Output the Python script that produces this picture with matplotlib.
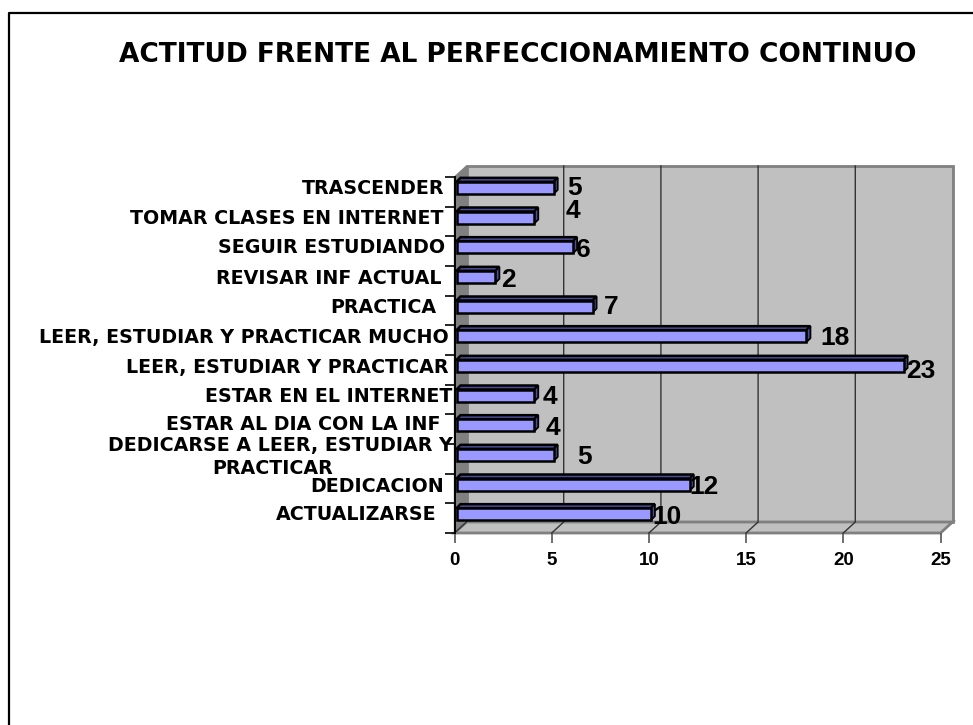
import matplotlib
matplotlib.use("Agg")
import matplotlib.pyplot as plt
from matplotlib.patches import Polygon

plt.rcParams['font.family'] = ['Liberation Sans', 'DejaVu Sans']

categorias = ["ACTUALIZARSE", "DEDICACION", "DEDICARSE A LEER, ESTUDIAR Y\nPRACTICAR",
              "ESTAR AL DIA CON LA INF", "ESTAR EN EL INTERNET", "LEER, ESTUDIAR Y PRACTICAR",
              "LEER, ESTUDIAR Y PRACTICAR MUCHO", "PRACTICA", "REVISAR INF ACTUAL",
              "SEGUIR ESTUDIANDO", "TOMAR CLASES EN INTERNET", "TRASCENDER"]
valores = [10, 12, 5, 4, 4, 23, 18, 7, 2, 6, 4, 5]
ticks_x = [0, 5, 10, 15, 20, 25]

# etiquetas movidas a mano en el original (px desde el final de la barra)
label_dx = [-3, -4, 20, 7, 4, -1, 10, 7, 2, -1, 27, 10]
label_dy = [3, 3, 2, 3, 2, 5, 2, 1, 3, 3, -7, 0]
# final derecho y altura de cada etiqueta de categoria, en pixeles
cat_right = [437, 444, 453, 441, 452, 449, 449, 436, 441, 445, 444, 444]
cat_y = [515, 486, 445, 424, 396, 367, 337, 307, 278, 248, 218, 189]
ancha = ['DejaVu Sans']

W, H = 973, 725
fig = plt.figure(figsize=(W / 100, H / 100), dpi=100)
# rectangulo frontal del grafico en pixeles
x0, x1, y_top, y_bot = 454.5, 940.5, 177, 533
dx, dy = 12, 11
ax = fig.add_axes([x0 / W, 1 - y_bot / H, (x1 - x0) / W, (y_bot - y_top) / H])
ax.set_xlim(0, 25)
ax.set_ylim(0, len(categorias))
ax.patch.set_visible(False)
for s in ax.spines.values():
    s.set_visible(False)

# marco exterior, sin lado derecho visible
fig.add_artist(plt.Line2D([8.5 / W, 8.5 / W, 1],
                          [0, 1 - 12.5 / H, 1 - 12.5 / H], color='black', lw=1.6))

ux = 25 / (x1 - x0)      # unidades de datos por pixel
uy = len(categorias) / (y_bot - y_top)
ddx, ddy = dx * ux, dy * uy
n = len(categorias)
gris = '#c0c0c0'
borde = '#808080'

# paredes 3d
ax.add_patch(Polygon([(ddx, ddy), (25 + ddx, ddy), (25 + ddx, n + ddy), (ddx, n + ddy)],
                     fc=gris, ec=borde, lw=2, clip_on=False, zorder=1))
ax.add_patch(Polygon([(0, 0), (ddx, ddy), (ddx, n + ddy), (0, n)],
                     fc=borde, ec=borde, lw=1, clip_on=False, zorder=1))
ax.add_patch(Polygon([(0, 0), (25, 0), (25 + ddx, ddy), (ddx, ddy)],
                     fc=gris, ec=borde, lw=2, clip_on=False, zorder=1))
for t in ticks_x[1:-1]:
    ax.plot([t, t + ddx, t + ddx], [0, ddy, n + ddy], color='#333333', lw=1,
            clip_on=False, zorder=2)
ax.plot([0, ddx], [0, ddy], color='#333333', lw=1, clip_on=False, zorder=2)
ax.plot([0, 0], [0, n], color='black', lw=1.4, clip_on=False, zorder=3)

# barras con caras 3d
alto = 12 * uy
bdx, bdy = 4 * ux, 4 * uy
x_ini = 2 * ux
for i, v in enumerate(valores):
    yc = i + 0.5 + 4 * uy
    y1, y2 = yc - alto / 2, yc + alto / 2
    xe = x_ini + v
    ax.add_patch(Polygon([(x_ini, y2), (xe, y2), (xe + bdx, y2 + bdy), (x_ini + bdx, y2 + bdy)],
                         fc='#4c4c99', ec='black', lw=1.8, zorder=4, clip_on=False))
    ax.add_patch(Polygon([(xe, y1), (xe + bdx, y1 + bdy), (xe + bdx, y2 + bdy), (xe, y2)],
                         fc='#4c4c99', ec='black', lw=1.3, zorder=4, clip_on=False))
ax.barh([i + 0.5 + 4 * uy for i in range(n)], valores, left=x_ini, height=alto,
        color='#9999ff', edgecolor='black', lw=1.8, zorder=5)

# valores
for i, v in enumerate(valores):
    ax.annotate(str(v), (x_ini + v + bdx, i + 0.5 + 4 * uy),
                xytext=(label_dx[i] * 0.72, -label_dy[i] * 0.72), textcoords='offset points',
                fontsize=19, fontweight='bold', ha='left', va='center', zorder=6,
                annotation_clip=False)

# ejes
ax.set_xticks(ticks_x)
ax.set_yticks(range(n + 1))
ax.set_yticklabels([])
ax.tick_params(axis='x', length=7, width=1.2, color='#555555', labelsize=13.5, pad=7)
ax.tick_params(axis='y', length=7, width=1.2, color='black')
for lab in ax.get_xticklabels():
    lab.set_fontweight('bold')

for c, xr, yy in zip(categorias, cat_right, cat_y):
    fig.text(xr / W, 1 - yy / H, c.split('\n')[0], ha='right', va='center',
             fontsize=13.7, fontweight='bold', family=ancha)
    if '\n' in c:
        # segunda linea de la etiqueta partida, encima de DEDICACION
        fig.text(333 / W, 1 - 468 / H, c.split('\n')[1], ha='right', va='center',
                 fontsize=13.7, fontweight='bold', family=ancha)

fig.text(517.5 / W, 1 - 55 / H, "ACTITUD FRENTE AL PERFECCIONAMIENTO CONTINUO",
         ha='center', va='center', fontsize=19, fontweight='bold', family=ancha)

fig.savefig('out.png', dpi=100)
